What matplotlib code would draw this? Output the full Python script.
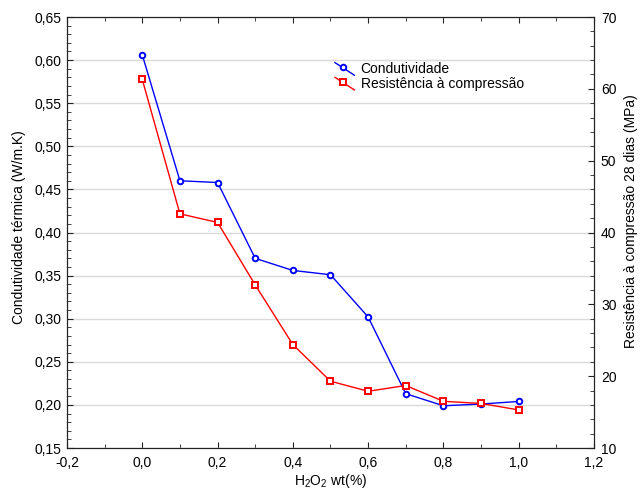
import matplotlib
matplotlib.use('Agg')
import matplotlib.pyplot as plt
from matplotlib.ticker import MultipleLocator, FuncFormatter
from matplotlib.legend_handler import HandlerBase
from matplotlib.lines import Line2D

plt.rcParams['font.family'] = ['Liberation Sans', 'DejaVu Sans']
plt.rcParams['mathtext.default'] = 'regular'
plt.rcParams['font.size'] = 10

h2o2 = [0.0, 0.1, 0.2, 0.3, 0.4, 0.5, 0.6, 0.7, 0.8, 0.9, 1.0]
condutividade = [0.606, 0.460, 0.458, 0.370, 0.356, 0.351, 0.302, 0.213, 0.199, 0.201, 0.204]
resistencia = [61.3, 42.6, 41.4, 32.7, 24.4, 19.3, 17.9, 18.7, 16.5, 16.2, 15.3]

def virgula(fmt):
    return FuncFormatter(lambda v, p: (fmt % v).replace('.', ','))

# legenda com o traço inclinado, como no original
class Inclinado(HandlerBase):
    def create_artists(self, legend, orig, xd, yd, w, h, fontsize, trans):
        x0, y0 = -xd, -yd
        linha = Line2D([x0, x0 + w], [y0 + h * 1.05, y0 - h * 0.25],
                       color=orig.get_color(), lw=orig.get_linewidth())
        marca = Line2D([x0 + w * 0.4], [y0 + h * 0.55], ls='none',
                       marker=orig.get_marker(), ms=orig.get_markersize(),
                       mfc=orig.get_markerfacecolor(), mec=orig.get_markeredgecolor(),
                       mew=orig.get_markeredgewidth())
        linha.set_transform(trans)
        marca.set_transform(trans)
        return [linha, marca]

fig = plt.figure(figsize=(6.4, 4.9), dpi=100)
ax = fig.add_axes([0.1047, 0.0857, 0.8234, 0.8796])
ax2 = ax.twinx()

l1, = ax.plot(h2o2, condutividade, color='blue', lw=1, marker='o', ms=4,
              mfc='white', mec='blue', mew=1.4, label='Condutividade', zorder=3)
l2, = ax2.plot(h2o2, resistencia, color='red', lw=1, marker='s', ms=4,
               mfc='white', mec='red', mew=1.4, label='Resistência à compressão', zorder=3)

ax.set_xlim(-0.2, 1.2)
ax.set_ylim(0.15, 0.65)
ax2.set_ylim(10, 70)

ax.xaxis.set_major_locator(MultipleLocator(0.2))
ax.xaxis.set_minor_locator(MultipleLocator(0.1))
ax.yaxis.set_major_locator(MultipleLocator(0.05))
ax.yaxis.set_minor_locator(MultipleLocator(0.01))
ax2.yaxis.set_major_locator(MultipleLocator(10))
ax2.yaxis.set_minor_locator(MultipleLocator(2))

ax.xaxis.set_major_formatter(virgula('%.1f'))
ax.yaxis.set_major_formatter(virgula('%.2f'))

ax.grid(axis='y', which='major', color='#dadada', lw=1)
ax.set_axisbelow(True)

ax.tick_params(which='both', direction='in', top=True, right=False, colors='#222222',
               labelcolor='black')
ax.tick_params(axis='x', which='major', pad=6)
ax.tick_params(axis='y', which='major', pad=4)
ax.tick_params(which='major', length=4)
ax.tick_params(which='minor', length=3)
ax2.tick_params(which='both', direction='in', colors='#222222', labelcolor='black')
ax2.tick_params(which='major', length=4, pad=5)
ax2.tick_params(which='minor', length=3)
for a in (ax, ax2):
    for s in a.spines.values():
        s.set_color('#222222')

ax.set_xlabel('H$_2$O$_2$ wt(%)', labelpad=1)
ax.set_ylabel('Condutividade térmica (W/m.K)')
ax2.set_ylabel('Resistência à compressão 28 dias (MPa)')
ax.yaxis.set_label_coords(-0.077, 0.513)
ax2.yaxis.set_label_coords(1.057, 0.527)

ax.legend([l1, l2], ['Condutividade', 'Resistência à compressão'], loc='upper left',
          bbox_to_anchor=(0.5085, 0.896), frameon=False, handlelength=1.4,
          handletextpad=0.45, labelspacing=0.05, borderaxespad=0, borderpad=0,
          handler_map={Line2D: Inclinado()})

fig.savefig('out.png', dpi=100)
